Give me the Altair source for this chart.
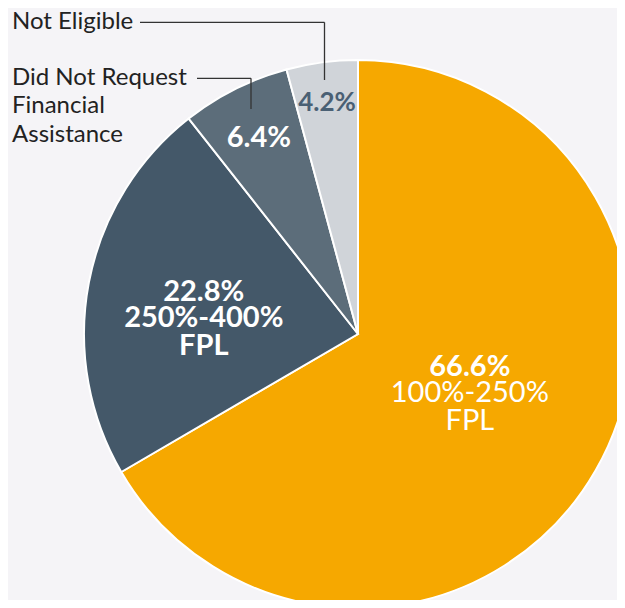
import altair as alt
import pandas as pd

categories = ["100%-250% FPL", "250%-400% FPL",
              "Did Not Request Financial Assistance", "Not Eligible"]
shares = [66.6, 22.8, 6.4, 4.2]
slice_colors = ["#F6A800", "#445869", "#5C6D7A", "#D0D4D9"]
inner_lines = [["100%-250%", "FPL"], ["250%-400%", "FPL"], [], []]
outer_lines = [[], [], ["Did Not Request", "Financial", "Assistance"], ["Not Eligible"]]

df = pd.DataFrame({"idx": list(range(len(categories))),
                   "category": categories, "share": shares})
one = pd.DataFrame({"k": [0]})

W, H = 609, 592
CX, CY, R = 350, 326, 274
FONT = "Lato"
BG = "#F5F4F7"

base = alt.Chart(df)

pie = base.mark_arc(x=CX, y=CY, radius=R, stroke="white", strokeWidth=2, clip=True).encode(
    theta=alt.Theta("share:Q", stack=True),
    order=alt.Order("idx:Q", sort="ascending"),
    color=alt.Color("category:N", scale=alt.Scale(domain=categories, range=slice_colors), legend=None),
)

angles = base.transform_window(
    cum="sum(share)", sort=[alt.SortField("idx", order="ascending")], frame=[None, 0]
).transform_joinaggregate(total="sum(share)").transform_calculate(
    mid="(datum.cum - datum.share / 2) / datum.total * 2 * PI",
    pct="format(datum.share, '.1f') + '%'",
)


def polar_text(i, text, r, dy, size, weight, color):
    return angles.transform_filter(f"datum.idx == {i}").mark_text(
        x=CX, y=CY, radius=r, dy=dy, font=FONT, fontSize=size, fontWeight=weight,
        color=color, align="center", baseline="middle",
    ).encode(theta=alt.Theta("mid:Q", scale=None, stack=False), text=text)


texts = [
    polar_text(0, alt.Text("pct:N"), 129, -31.5, 29, "bold", "white"),
    polar_text(0, alt.value(inner_lines[0][0]), 129, -5.5, 29, "normal", "white"),
    polar_text(0, alt.value(inner_lines[0][1]), 129, 22.5, 29, "normal", "white"),
    polar_text(1, alt.Text("pct:N"), 157, -13, 29, "bold", "white"),
    polar_text(1, alt.value(inner_lines[1][0]), 157, 13, 29, "bold", "white"),
    polar_text(1, alt.value(inner_lines[1][1]), 157, 41, 29, "bold", "white"),
    polar_text(2, alt.Text("pct:N"), 221, 1.5, 29, "bold", "white"),
    polar_text(3, alt.Text("pct:N"), 235, 1.5, 26, "bold", "#4A6074"),
]

outer = []
for i, y0 in [(2, 70), (3, 14.2)]:
    for k, line in enumerate(outer_lines[i]):
        outer.append(
            base.transform_filter(f"datum.idx == {i}").mark_text(
                x=4, y=y0 + 28.3 * k, align="left", baseline="middle",
                font=FONT, fontSize=24, color="#222222",
            ).encode(text=alt.value(line))
        )

LC = "#333333"
rules = [
    alt.Chart(one).mark_rule(color=LC, strokeWidth=1.3).encode(
        x=alt.value(132), x2=alt.value(316.5), y=alt.value(14.3)),
    alt.Chart(one).mark_rule(color=LC, strokeWidth=1.3).encode(
        x=alt.value(316.5), y=alt.value(14.3), y2=alt.value(72)),
    alt.Chart(one).mark_rule(color=LC, strokeWidth=1.3).encode(
        x=alt.value(189), x2=alt.value(243), y=alt.value(70.3)),
    alt.Chart(one).mark_rule(color=LC, strokeWidth=1.3).encode(
        x=alt.value(243), y=alt.value(70.3), y2=alt.value(101)),
]

chart = alt.layer(pie, *texts, *outer, *rules).resolve_scale(
    theta="independent"
).properties(
    width=W, height=H, autosize=alt.AutoSizeParams(type="none"), padding=0, background=BG
).configure_view(strokeWidth=0)

chart.save("out.html", embed_options={"renderer": "svg", "actions": False})
